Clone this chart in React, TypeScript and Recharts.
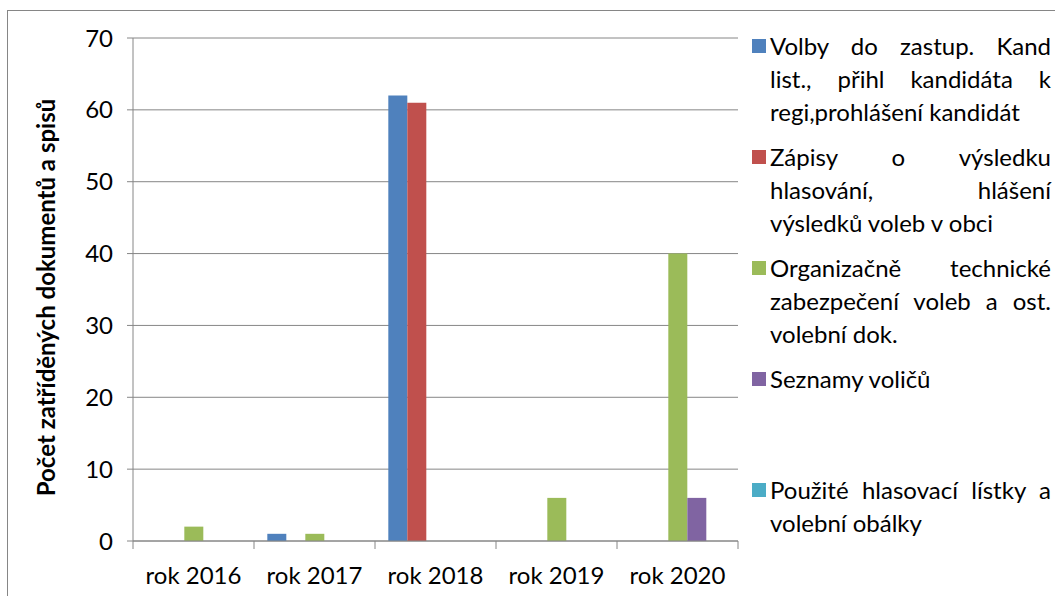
import { BarChart, Bar, XAxis, YAxis, CartesianGrid, Legend } from 'recharts';

// categories
const years = ['rok 2016', 'rok 2017', 'rok 2018', 'rok 2019', 'rok 2020'];

// series values (one per year)
const volby = [0, 1, 62, 0, 0];
const zapisy = [0, 0, 61, 0, 0];
const organizacne = [2, 1, 0, 6, 40];
const seznamy = [0, 0, 0, 0, 6];
const pouzite = [0, 0, 0, 0, 0];

// legend text, already split into lines like in the original
const volbyLabel = ['Volby do zastup. Kand', 'list., přihl kandidáta k', 'regi,prohlášení kandidát'];
const zapisyLabel = ['Zápisy o výsledku', 'hlasování, hlášení', 'výsledků voleb v obci'];
const organizacneLabel = ['Organizačně technické', 'zabezpečení voleb a ost.', 'volební dok.'];
const seznamyLabel = ['Seznamy voličů'];
const pouziteLabel = ['Použité hlasovací lístky a', 'volební obálky'];

const yTicks = [0, 10, 20, 30, 40, 50, 60, 70];
const yTitle = 'Počet zatříděných dokumentů a spisů';

const series = [
  { key: 'volby', color: '#4F81BD', lines: volbyLabel },
  { key: 'zapisy', color: '#C0504D', lines: zapisyLabel },
  { key: 'organizacne', color: '#9BBB59', lines: organizacneLabel },
  { key: 'seznamy', color: '#8064A2', lines: seznamyLabel },
  { key: 'pouzite', color: '#4BACC6', lines: pouziteLabel },
];

const data = years.map((year, i) => ({
  year,
  volby: volby[i],
  zapisy: zapisy[i],
  organizacne: organizacne[i],
  seznamy: seznamy[i],
  pouzite: pouzite[i],
}));

const FONT = 'Lato, "Open Sans", sans-serif';
const AXIS_COLOR = '#868686';

const CHART_W = 1048;
const CHART_H = 586;
const MARGIN = { top: 28, right: 317, bottom: 0, left: 0 };
const Y_AXIS_W = 126;
const X_AXIS_H = 55;
const AXIS_Y = CHART_H - MARGIN.bottom - X_AXIS_H;
const BAND = (CHART_W - MARGIN.right - MARGIN.left - Y_AXIS_W) / years.length;

// category label at the centre, tick marks at the band edges (Excel style)
const XTick = (props: any) => {
  const { x, payload, index } = props;
  const left = x - BAND / 2;
  const right = x + BAND / 2;
  return (
    <g>
      <line x1={left} y1={AXIS_Y} x2={left} y2={AXIS_Y + 8} stroke={AXIS_COLOR} />
      {index === years.length - 1 && (
        <line x1={right} y1={AXIS_Y} x2={right} y2={AXIS_Y + 8} stroke={AXIS_COLOR} />
      )}
      <text x={x} y={AXIS_Y + 43} textAnchor="middle" fill="#000" fontSize={24} fontFamily={FONT}>
        {payload.value}
      </text>
    </g>
  );
};

const LegendContent = () => (
  <div style={{ fontFamily: FONT, fontSize: 24, color: '#000' }}>
    {series.map((s) => (
      <div key={s.key} style={{ position: 'relative', height: 111 }}>
        <div
          style={{
            position: 'absolute',
            left: 0,
            top: 10,
            width: 14,
            height: 14,
            background: s.color,
          }}
        />
        <div style={{ marginLeft: 18, width: 281 }}>
          {s.lines.map((line, i) => (
            <div
              key={i}
              style={{
                lineHeight: '33px',
                whiteSpace: 'nowrap',
                textAlign: i < s.lines.length - 1 ? 'justify' : 'left',
                textAlignLast: i < s.lines.length - 1 ? 'justify' : 'left',
              }}
            >
              {line}
            </div>
          ))}
        </div>
      </div>
    ))}
  </div>
);

export default function App() {
  return (
    <div
      style={{
        position: 'absolute',
        left: 7,
        top: 10,
        width: CHART_W,
        height: CHART_H,
        boxSizing: 'border-box',
        borderLeft: `1px solid ${AXIS_COLOR}`,
        borderTop: `1px solid ${AXIS_COLOR}`,
        background: '#fff',
      }}
    >
      <div style={{ position: 'absolute', left: -1, top: -1 }}>
        <BarChart
          width={CHART_W}
          height={CHART_H}
          data={data}
          margin={MARGIN}
          barCategoryGap="11%"
          barGap={0}
        >
          <CartesianGrid vertical={false} stroke={AXIS_COLOR} />
          <XAxis
            dataKey="year"
            height={X_AXIS_H}
            stroke={AXIS_COLOR}
            tickLine={false}
            tick={<XTick />}
            interval={0}
          />
          <YAxis
            width={Y_AXIS_W}
            domain={[0, 70]}
            ticks={yTicks}
            interval={0}
            stroke={AXIS_COLOR}
            tickSize={6}
            tickMargin={14}
            tick={{ fill: '#000', fontSize: 24, fontFamily: FONT }}
            label={{
              value: yTitle,
              angle: -90,
              position: 'center',
              dx: -24,
              dy: 8,
              style: { fill: '#000', fontSize: 24, fontWeight: 'bold', fontFamily: FONT },
            }}
          />
          <Legend
            layout="vertical"
            align="center"
            verticalAlign="middle"
            content={<LegendContent />}
            wrapperStyle={{ left: 745, top: 19, width: 300 }}
          />
          {series.map((s) => (
            <Bar key={s.key} dataKey={s.key} fill={s.color} isAnimationActive={false} />
          ))}
        </BarChart>
      </div>
    </div>
  );
}
